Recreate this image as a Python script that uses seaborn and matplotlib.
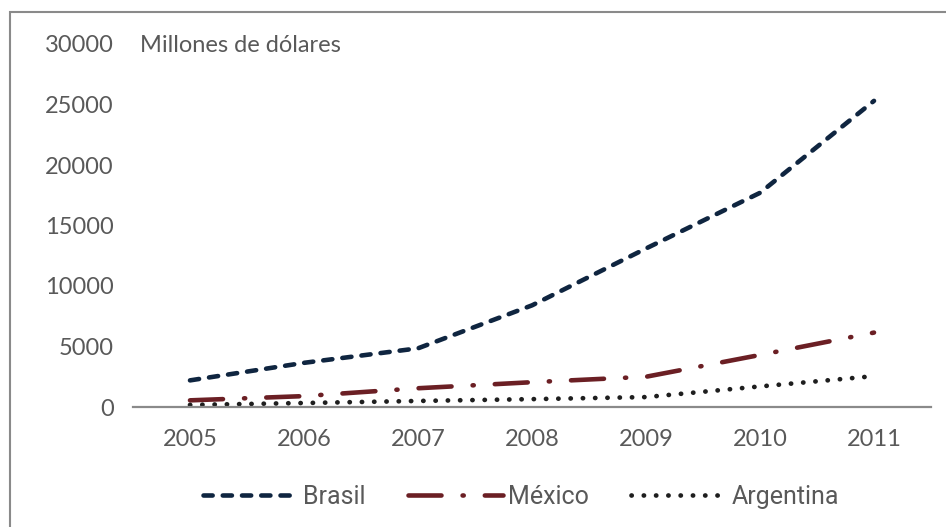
import matplotlib
matplotlib.use("Agg")
import matplotlib.pyplot as plt
import matplotlib.patches as mpatches
import seaborn as sns
import pandas as pd

years = ["2005", "2006", "2007", "2008", "2009", "2010", "2011"]
brasil = [2200, 3650, 4850, 8400, 13100, 17700, 25300]
mexico = [550, 900, 1550, 2050, 2500, 4300, 6150]
argentina = [170, 330, 500, 650, 820, 1700, 2550]
series_names = ["Brasil", "México", "Argentina"]
yticks = [0, 5000, 10000, 15000, 20000, 25000, 30000]
title_text = "Millones de dólares"

colors = {"Brasil": "#0f2540", "México": "#6b1f24", "Argentina": "#1e1e1e"}
widths = {"Brasil": 3.3, "México": 3.3, "Argentina": 3.4}
dashes = {"Brasil": (2.0, 2.2), "México": (7.2, 4.6, 0.25, 4.6), "Argentina": (0.05, 2.55)}

sns.set_theme(style="white")
plt.rcParams["font.family"] = ["Lato", "DejaVu Sans"]

df = pd.DataFrame({
    "Año": years * 3,
    "Valor": brasil + mexico + argentina,
    "País": [s for s in series_names for _ in years],
})

fig = plt.figure(figsize=(9.46, 5.27), dpi=100)
ax = fig.add_axes([133 / 946, 1 - 407 / 527, (931 - 133) / 946, (407 - 44) / 527])

for name in series_names:
    sub = df[df["País"] == name]
    sns.lineplot(data=sub, x="Año", y="Valor", ax=ax, color=colors[name],
                 lw=widths[name], label=name, legend=False, sort=False)
    ln = ax.lines[-1]
    ln.set_dashes(dashes[name])
    ln.set_dash_capstyle("round")
    ln.set_solid_capstyle("round")

ax.set_xlim(-0.5, len(years) - 0.5)
ax.set_ylim(0, 30000)
ax.set_yticks(yticks)
ax.set_yticklabels([str(v) for v in yticks])
ax.set_xlabel("")
ax.set_ylabel("")
for s in ["left", "right", "top"]:
    ax.spines[s].set_visible(False)
ax.spines["bottom"].set_color("#8a8a8a")
ax.spines["bottom"].set_linewidth(1.6)
ax.tick_params(axis="both", length=0, labelsize=17, labelcolor="#595959")
ax.tick_params(axis="y", pad=14)
ax.tick_params(axis="x", pad=16)

fig.text(140 / 946, 1 - 45 / 527, title_text, fontsize=17, color="#595959",
         va="center", ha="left")

handles = [ax.lines[i] for i in range(3)]
leg = fig.legend(handles, series_names, loc="center", ncol=3,
                 bbox_to_anchor=(521 / 946, 1 - 497 / 527), frameon=False,
                 handlelength=3.8, columnspacing=1.7, handletextpad=0.2,
                 prop={"family": ["Roboto", "DejaVu Sans"], "size": 18})
for t in leg.get_texts():
    t.set_color("#595959")

border = mpatches.Rectangle((10 / 946, -0.1), 1.2, 1 - 12 / 527 + 0.1,
                            transform=fig.transFigure, fill=False,
                            edgecolor="#8a8a8a", lw=1.5)
fig.patches.append(border)

fig.savefig("out.png", dpi=100)
